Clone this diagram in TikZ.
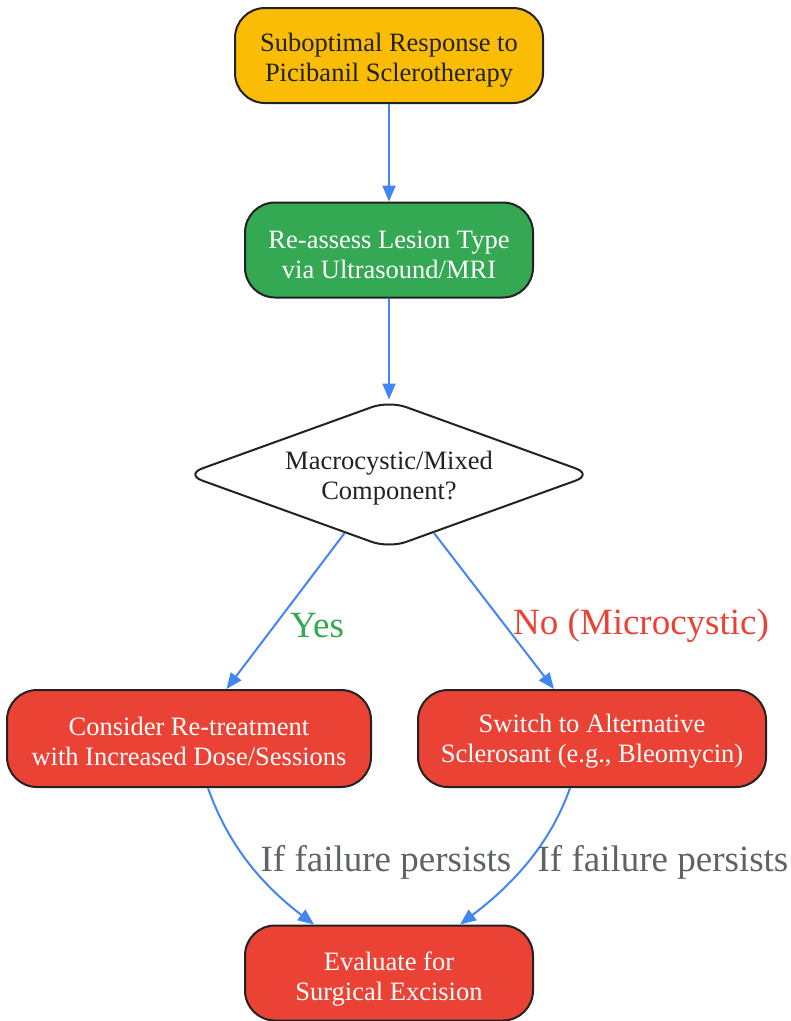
\documentclass[tikz,border=0pt]{standalone}
\usepackage{fontspec}
\setmainfont{Liberation Serif}
\usetikzlibrary{arrows.meta,shapes.geometric}
\definecolor{cyellow}{HTML}{FBBC05}
\definecolor{cgreen}{HTML}{34A853}
\definecolor{cred}{HTML}{EA4335}
\definecolor{cblue}{HTML}{4285F4}
\definecolor{cgray}{HTML}{5F6368}
\definecolor{cborder}{HTML}{222222}
\definecolor{ctext}{HTML}{222222}
\tikzset{
  box/.style={draw=cborder, line width=2pt, rounded corners=30pt,
    minimum height=95pt, inner sep=0pt},
  txt/.style={align=center, inner sep=0pt, font=\fontsize{26.5}{30}\selectfont},
  dec/.style={draw=cborder, line width=2pt, diamond, shape aspect=2.794, rounded corners=18pt,
    minimum width=408pt, minimum height=148pt, inner sep=0pt, fill=white},
  arr/.style={draw=cblue, line width=2pt, -{Triangle[length=16pt,width=13pt]}},
  lbl/.style={font=\fontsize{37}{40}\selectfont, inner sep=1pt},
}
\begin{document}
\begin{tikzpicture}[x=1pt,y=-1pt]
\useasboundingbox[fill=white] (0,0) rectangle (791,1021);
\node[box, fill=cyellow, minimum width=308pt] (top) at (389,55.5) {};
\node[txt, text=ctext] (topT) at (389,60) {Suboptimal Response to\\Picibanil Sclerotherapy};
\node[box, fill=cgreen, minimum width=288pt] (assess) at (389,250) {};
\node[txt, text=white] (assessT) at (389,254.5) {Re-assess Lesion Type\\via Ultrasound/MRI};
\node[dec] (dia) at (389,474.5) {};
\node[txt, text=ctext] (diaT) at (389,478.5) {Macrocystic/Mixed\\Component?};
\node[box, fill=cred, minimum width=364pt, minimum height=97pt] (left) at (189,738.5) {};
\node[txt, text=white] (leftT) at (189,741) {Consider Re-treatment\\with Increased Dose/Sessions};
\node[box, fill=cred, minimum width=348pt, minimum height=97pt] (right) at (592,738.5) {};
\node[txt, text=white] (rightT) at (592,741) {Switch to Alternative\\Sclerosant (e.g., Bleomycin)};
\node[box, fill=cred, minimum width=288pt] (bot) at (389,973) {};
\node[txt, text=white] (botT) at (389,979) {Evaluate for\\Surgical Excision};

\draw[arr] (top) -- (assess);
\draw[arr] (assess) -- (dia);
\draw[arr] (dia) -- (left);
\draw[arr] (dia) -- (right);
\draw[arr] ([xshift=19pt]left.south) .. controls (228,845) and (262,885) .. ([xshift=-75pt]bot.north);
\draw[arr] ([xshift=-22pt]right.south) .. controls (550,845) and (512,885) .. ([xshift=71pt]bot.north);

\node[lbl, text=cgreen] (yes) at (317,626) {Yes};
\node[lbl, text=cred] (no) at (641,626) {No (Microcystic)};
\node[lbl, text=cgray] (f1) at (386,862) {If failure persists};
\node[lbl, text=cgray] (f2) at (663,862) {If failure persists};
\end{tikzpicture}
\end{document}
